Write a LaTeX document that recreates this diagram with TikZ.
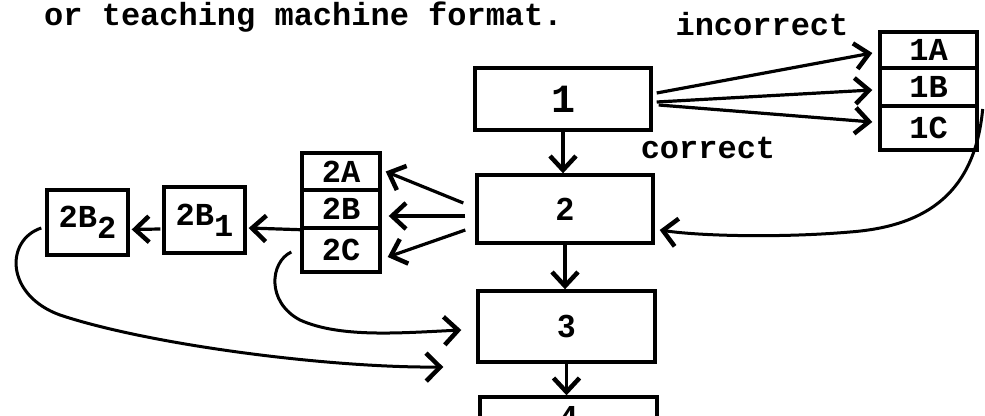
\documentclass[tikz,border=0pt]{standalone}
\usepackage{fontspec}
\setmainfont{Liberation Mono}
\newfontfamily\digitfont{Liberation Sans}
\usetikzlibrary{arrows.meta,calc}
\tikzset{
  tw/.style={font=\fontsize{32}{36}\selectfont\bfseries},
  bx/.style={draw, line width=3.4pt, inner sep=0pt, tw},
  conn/.style={line width=3.2pt, -{Straight Barb[length=14pt,width=26pt,line width=4.5pt]}},
  crv/.style={line width=3pt, -{Straight Barb[length=14pt,width=28pt,line width=4.5pt]}},
  lbl/.style={tw, inner sep=0pt}
}
\begin{document}
\begin{tikzpicture}[x=1pt,y=-1pt]
\useasboundingbox (0,0) rectangle (985,415);
\clip (0,0) rectangle (985,415);
% title
\node[lbl, anchor=base west] (title) at (44,25) {or teaching machine format.};
% main boxes
\node[bx, minimum width=176pt, minimum height=62pt] (b1) at (563,99) {\fontsize{40}{44}\selectfont\bfseries 1};
\node[bx, minimum width=176pt, minimum height=68pt] (b2) at (565,209) {\digitfont\fontsize{32}{36}\selectfont 2};
\node[bx, minimum width=177pt, minimum height=71pt] (b3) at (566.5,326.5) {\digitfont\fontsize{32}{36}\selectfont 3};
\node[bx, minimum width=177pt, minimum height=40pt] (b4) at (568.5,417) {\digitfont\fontsize{32}{36}\selectfont 4};
% stack 1
\node[bx, minimum width=97pt, minimum height=36pt] (s1A) at (928.5,50) {1A};
\node[bx, minimum width=97pt, minimum height=38pt] (s1B) at (928.5,87) {1B};
\node[bx, minimum width=97pt, minimum height=44pt] (s1C) at (928.5,128) {1C};
% stack 2
\node[bx, minimum width=78pt, minimum height=37pt] (s2A) at (341,171.5) {2A};
\node[bx, minimum width=78pt, minimum height=38pt] (s2B) at (341,209) {2B};
\node[bx, minimum width=78pt, minimum height=44pt] (s2C) at (341,250) {2C};
% side boxes
\node[bx, minimum width=81pt, minimum height=66pt] (b2B1) at (204.5,220) {2B\raisebox{-11pt}{1}};
\node[bx, minimum width=81pt, minimum height=65pt] (b2B2) at (87.5,222.5) {2B\raisebox{-11pt}{2}};
% labels
\node[lbl] (inc) at (762,24) {incorrect};
\node[lbl] (cor) at (708,148) {correct};
% vertical arrows
\draw[conn] (b1.south) -- (b1.south |- b2.north);
\draw[conn] (b2.south) -- (b2.south |- b3.north);
\draw[conn] (b3.south) -- (b3.south |- b4.north);
% box 1 to stack 1
\draw[conn] ($(b1.east)+(4,-6)$) -- ($(s1A.west)+(-6,3)$);
\draw[conn] ($(b1.east)+(4,3)$) -- ($(s1B.west)+(-6,3)$);
\draw[conn] ($(b1.east)+(6,6)$) -- ($(s1C.west)+(-6,-6)$);
% box 2 to stack 2
\draw[conn] ($(b2.west)+(-12,-6)$) -- ($(s2A.east)+(4,0)$);
\draw[conn] ($(b2.west)+(-10,7)$) -- ($(s2B.east)+(7,7)$);
\draw[conn] ($(b2.west)+(-10,21)$) -- ($(s2C.east)+(6,7)$);
% 2B chain
\draw[conn] (s2B.south west) -- ($(b2B1.east)+(2,8)$);
\draw[conn] ($(b2B1.west)+(-2,9)$) -- ($(b2B2.east)+(2,7)$);
% curves
\coordinate (c1s) at ($(s1B.east)+(4,22)$);
\coordinate (c1e) at ($(b2.east)+(5,21)$);
\draw[crv] (c1s) .. controls (975,190) and (930,226) .. (850,232) .. controls (780,238) and (700,236) .. (c1e);
\coordinate (c2s) at ($(s2C.west)+(-9,2)$);
\coordinate (c2e) at ($(b3.west)+(-15,3.5)$);
\draw[crv] (c2s) .. controls (270,262) and (266,302) .. (300,320) .. controls (340,338) and (400,333) .. (c2e);
\coordinate (c3s) at ($(b2B2.west)+(-4,5.5)$);
\coordinate (c3e) at ($(b3.west)+(-33,40.5)$);
\draw[crv] (c3s) .. controls (5,240) and (5,295) .. (60,315) .. controls (150,345) and (330,368) .. (c3e);
\end{tikzpicture}
\end{document}
